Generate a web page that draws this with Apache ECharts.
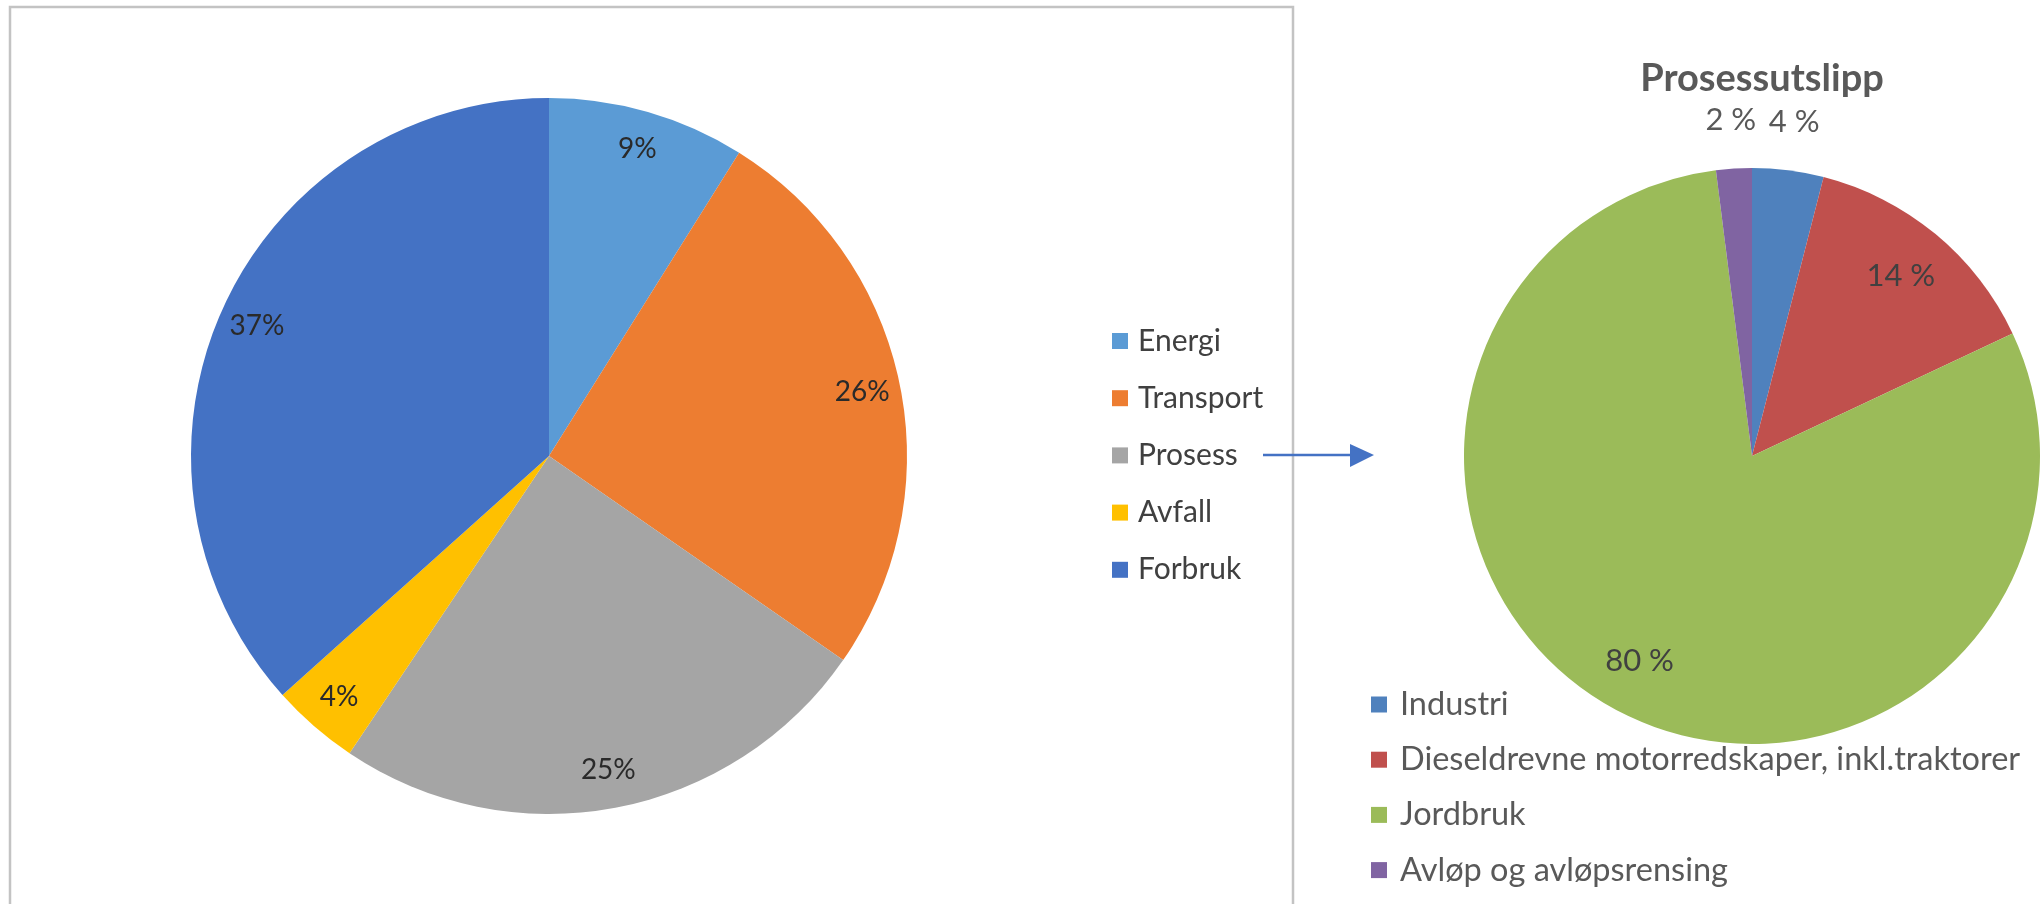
<!DOCTYPE html>
<html>
<head>
<meta charset="utf-8">
<script src="https://cdn.jsdelivr.net/npm/echarts@6/dist/echarts.min.js"></script>
<style>
html,body{margin:0;padding:0;background:#fff;}
#chart{width:2041px;height:904px;}
</style>
</head>
<body>
<div id="chart"></div>
<script>
// ---- Data ----
var mainCategories = ['Energi', 'Transport', 'Prosess', 'Avfall', 'Forbruk'];
var mainValues = [9, 26, 25, 4, 37];
var mainColors = ['#5B9BD5', '#ED7D31', '#A5A5A5', '#FFC000', '#4472C4'];

var procTitle = 'Prosessutslipp';
var procCategories = ['Industri', 'Dieseldrevne motorredskaper, inkl.traktorer', 'Jordbruk', 'Avløp og avløpsrensing'];
var procValues = [4, 14, 80, 2];
var procColors = ['#4F81BD', '#C0504D', '#9BBB59', '#8064A2'];

// ---- Build ----
var FONT = 'Lato, Carlito, "Open Sans", sans-serif';
var L_CENTER = [549, 456], L_R = 358;
var R_CENTER = [1752, 456], R_R = 288;

function mk(names, vals, colors) {
  return names.map(function (n, i) {
    return { name: n, value: vals[i], itemStyle: { color: colors[i] } };
  });
}
function mkLabel(names, vals, showFn) {
  return names.map(function (n, i) {
    return { name: n, value: vals[i], label: { show: showFn(vals[i]) } };
  });
}
var transparentItem = { color: 'rgba(0,0,0,0)', borderWidth: 0 };

var chart = echarts.init(document.getElementById('chart'), null, { renderer: 'canvas' });
chart.setOption({
  animation: false,
  backgroundColor: '#ffffff',
  title: {
    text: procTitle,
    left: 1757, top: 55, textAlign: 'center',
    textStyle: { fontFamily: FONT, fontSize: 38, fontWeight: 'bold', color: '#595959' }
  },
  legend: [{
    data: mainCategories,
    orient: 'vertical', left: 1107, top: 321,
    icon: 'rect', itemWidth: 16, itemHeight: 16, itemGap: 27.2,
    textStyle: { fontFamily: FONT, fontSize: 30, color: '#404040', lineHeight: 30, padding: [0, 0, 0, 5] },
    selectedMode: false
  }, {
    data: procCategories,
    orient: 'vertical', left: 1366, top: 683,
    icon: 'rect', itemWidth: 16, itemHeight: 16, itemGap: 22.2,
    textStyle: { fontFamily: FONT, fontSize: 32.5, color: '#595959', lineHeight: 31, padding: [0, 0, 0, 8] },
    selectedMode: false
  }],
  graphic: [
    { type: 'rect', shape: { x: 10, y: 7, width: 1283, height: 940 }, style: { fill: null, stroke: '#c3c3c3', lineWidth: 2.5 }, silent: true, z: 100 },
    { type: 'line', shape: { x1: 1263, y1: 455, x2: 1352, y2: 455 }, style: { stroke: '#4472C4', lineWidth: 2.5 }, silent: true, z: 100 },
    { type: 'polygon', shape: { points: [[1350, 444], [1374, 455], [1350, 467]] }, style: { fill: '#4472C4' }, silent: true, z: 100 }
  ],
  series: [{
    type: 'pie', center: L_CENTER, radius: [0, L_R], startAngle: 90, clockwise: true,
    silent: true, label: { show: false }, labelLine: { show: false },
    data: mk(mainCategories, mainValues, mainColors)
  }, {
    type: 'pie', center: R_CENTER, radius: [0, R_R], startAngle: 90, clockwise: true,
    silent: true, label: { show: false }, labelLine: { show: false },
    data: mk(procCategories, procValues, procColors)
  }, {
    // label ring for left pie
    type: 'pie', center: L_CENTER, radius: [L_R * 0.77, L_R], startAngle: 90, clockwise: true,
    silent: true, avoidLabelOverlap: false, itemStyle: transparentItem,
    label: { show: true, position: 'inside', formatter: '{c}%', fontFamily: FONT, fontSize: 28, color: '#2a2a2a' },
    labelLine: { show: false },
    data: mkLabel(mainCategories, mainValues, function () { return true; })
  }, {
    // inner label ring for right pie
    type: 'pie', center: R_CENTER, radius: [R_R * 0.6, R_R], startAngle: 90, clockwise: true,
    silent: true, avoidLabelOverlap: false, itemStyle: transparentItem,
    label: { position: 'inside', formatter: '{c} %', fontFamily: FONT, fontSize: 31, color: '#404040' },
    labelLine: { show: false },
    data: mkLabel(procCategories, procValues, function (v) { return v >= 10; })
  }, {
    // outer label ring for small slices of right pie
    type: 'pie', center: R_CENTER, radius: [R_R, R_R * 1.32], startAngle: 90, clockwise: true,
    silent: true, avoidLabelOverlap: false, itemStyle: transparentItem,
    label: { position: 'inside', formatter: '{c} %', fontFamily: FONT, fontSize: 31, color: '#595959' },
    labelLine: { show: false },
    data: mkLabel(procCategories, procValues, function (v) { return v < 10; })
  }]
});
</script>
</body>
</html>
